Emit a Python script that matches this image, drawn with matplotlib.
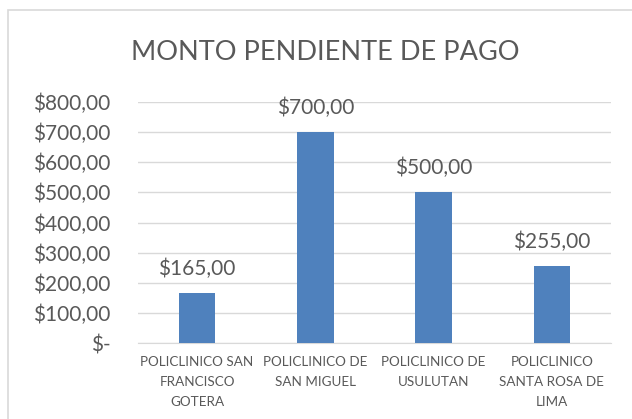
import matplotlib.pyplot as plt
from matplotlib.patches import Rectangle

categories = ['POLICLINICO SAN\nFRANCISCO\nGOTERA', 'POLICLINICO DE\nSAN MIGUEL',
              'POLICLINICO DE\nUSULUTAN', 'POLICLINICO\nSANTA ROSA DE\nLIMA']
montos = [165, 700, 500, 255]
yticks = [0, 100, 200, 300, 400, 500, 600, 700, 800]
title = 'MONTO PENDIENTE DE PAGO'

plt.rcParams['font.family'] = ['Lato', 'DejaVu Sans']
gray = '#595959'

fig = plt.figure(figsize=(6.32, 4.19), dpi=100)
ax = fig.add_axes([138 / 632, 1 - 343 / 419, (611 - 138) / 632, (343 - 102) / 419])

x = range(len(categories))
ax.bar(x, montos, width=0.31, color='#4f81bd', zorder=3)

# Data labels above each bar.
for i, v in zip(x, montos):
    ax.annotate(f'${v:,.2f}'.replace('.', ','), (i, v), xytext=(0, 10),
                textcoords='offset points', ha='center', va='bottom',
                fontsize=15, color=gray)

ax.set_xlim(-0.5, len(categories) - 0.5)
ax.set_ylim(0, 800)
ax.set_yticks(yticks)
ax.set_yticklabels(['$-' if t == 0 else f'${t},00' for t in yticks],
                   fontsize=15, color=gray)
ax.set_xticks(list(x))
ax.set_xticklabels(categories, fontsize=9.7, color=gray, linespacing=1.8)
ax.tick_params(axis='y', length=0, pad=20)
ax.tick_params(axis='x', length=0, pad=9.5)
ax.grid(axis='y', color='#d9d9d9', linewidth=1, zorder=0)
for s in ['top', 'right', 'left']:
    ax.spines[s].set_visible(False)
ax.spines['bottom'].set_color('#d9d9d9')

fig.text(325 / 632, 1 - 53 / 419, title, ha='center', va='center',
         fontsize=19.5, color=gray)

# Chart border (only left and top edges fall inside the image).
fig.patches.append(Rectangle((8 / 632, -10 / 419), 640 / 632, 419 / 419,
                             transform=fig.transFigure, fill=False,
                             edgecolor='#d9d9d9', linewidth=1.2))

fig.savefig('out.png', dpi=100)
